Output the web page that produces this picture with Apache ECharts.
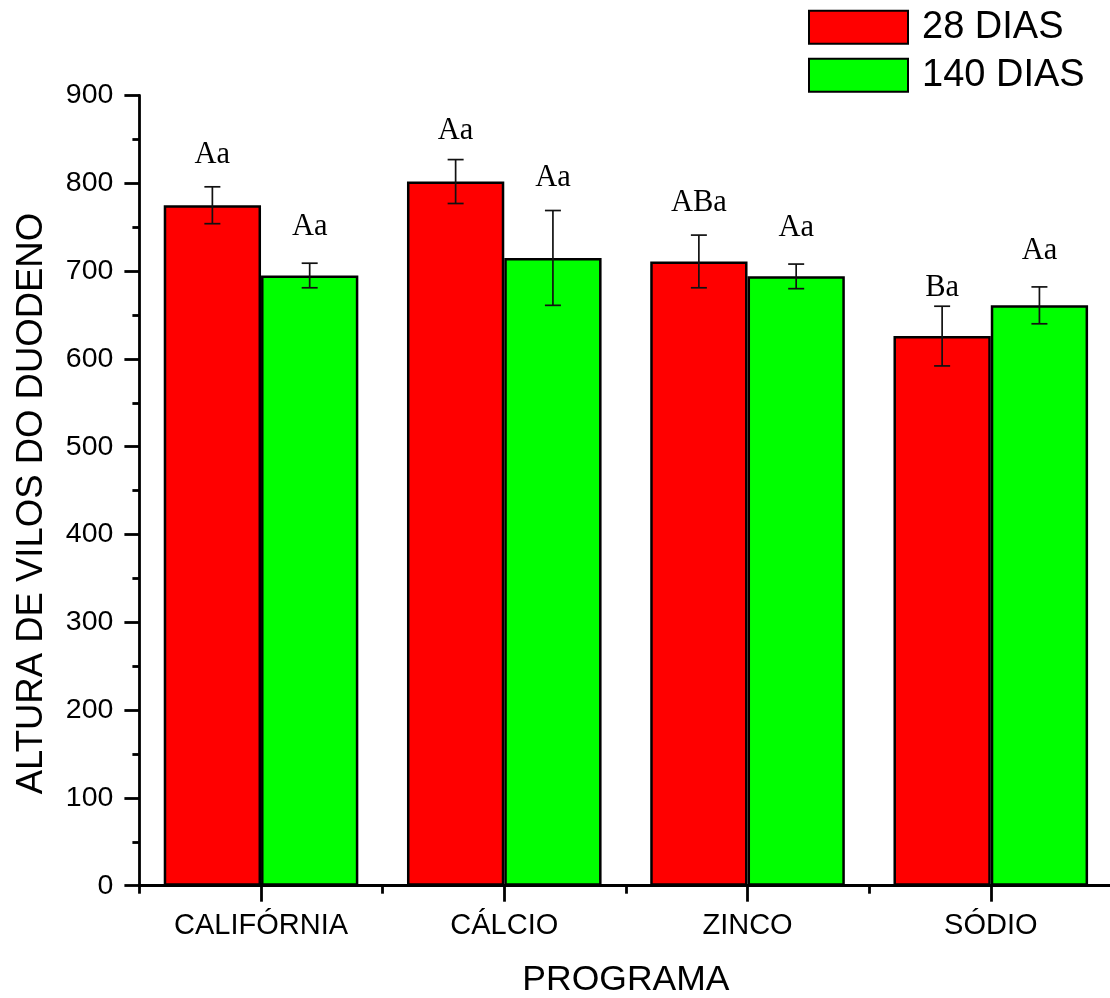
<!DOCTYPE html>
<html><head><meta charset="utf-8">
<script src="https://cdn.jsdelivr.net/npm/echarts@6/dist/echarts.min.js"></script>
<style>html,body{margin:0;padding:0;background:#fff;overflow:hidden}#c{width:1110px;height:998px}</style>
</head><body><div id="c"></div>
<script>
const categories = ['CALIFÓRNIA', 'CÁLCIO', 'ZINCO', 'SÓDIO'];
const seriesNames = ['28 DIAS', '140 DIAS'];
const dias28 = [775, 802, 711, 626];
const dias140 = [695, 715, 694, 661];
const err28 = [21, 25, 30, 34];
const err140 = [14, 54, 14, 21];
const letters28 = ['Aa', 'Aa', 'ABa', 'Ba'];
const letters140 = ['Aa', 'Aa', 'Aa', 'Aa'];
const letterAt28 = [832, 860, 778, 681];
const letterAt140 = [750, 806, 749, 723];
const yTicks = {min: 0, max: 900, interval: 100};

const errData = [];
categories.forEach((c, i) => {
  errData.push([i, dias28[i], err28[i], -1, letters28[i], letterAt28[i]]);
  errData.push([i, dias140[i], err140[i], 1, letters140[i], letterAt140[i]]);
});

const chart = echarts.init(document.getElementById('c'));
const font = 'Liberation Sans, Arial, Helvetica, sans-serif';
chart.setOption({
  animation: false,
  backgroundColor: '#fff',
  legend: {
    data: seriesNames,
    orient: 'vertical',
    left: 808, top: 8.2, padding: 0,
    itemWidth: 99, itemHeight: 33, itemGap: 10,
    icon: 'rect',
    textStyle: {fontSize: 38, fontFamily: font, color: '#000', padding: [0, 0, 0, 9]}
  },
  grid: {left: 139.4, width: 973, top: 95.5, bottom: 112.3, containLabel: false, outerBoundsMode: 'none'},
  xAxis: [{
    type: 'category', data: categories, position: 'bottom',
    axisLine: {lineStyle: {color: '#000', width: 2.8}},
    axisTick: {show: true, length: 8, lineStyle: {color: '#000', width: 2.8}},
    axisLabel: {fontSize: 29, fontFamily: font, color: '#000', margin: 26},
    name: 'PROGRAMA', nameLocation: 'middle', nameGap: 77,
    nameTextStyle: {fontSize: 35.5, fontFamily: font, color: '#000'}
  }, {
    type: 'category', data: categories, position: 'bottom',
    axisLine: {show: false},
    axisTick: {show: true, alignWithLabel: true, length: 16, lineStyle: {color: '#000', width: 2.8}},
    axisLabel: {show: false}
  }],
  yAxis: {
    type: 'value', min: yTicks.min, max: yTicks.max, interval: yTicks.interval,
    axisLine: {show: true, lineStyle: {color: '#000', width: 2.8}},
    axisTick: {show: true, length: 15, lineStyle: {color: '#000', width: 2.8}},
    minorTick: {show: true, splitNumber: 2, length: 7, lineStyle: {color: '#000', width: 2.8}},
    splitLine: {show: false},
    axisLabel: {fontSize: 28.5, fontFamily: font, color: '#000', margin: 26},
    name: 'ALTURA DE VILOS DO DUODENO', nameLocation: 'middle', nameGap: 89,
    nameTextStyle: {fontSize: 36.5, fontFamily: font, color: '#000', padding: [0, 26, 0, 0]}
  },
  series: [{
    name: seriesNames[0], type: 'bar', data: dias28, barGap: '0%', barCategoryGap: '20%',
    itemStyle: {color: '#ff0000', borderColor: '#000', borderWidth: 2.5}
  }, {
    name: seriesNames[1], type: 'bar', data: dias140, barGap: '0%', barCategoryGap: '20%',
    itemStyle: {color: '#00ff00', borderColor: '#000', borderWidth: 2.5}
  }, {
    type: 'custom', data: errData, z: 10,
    encode: {x: 0, y: 1},
    renderItem: function (params, api) {
      const idx = api.value(0), mean = api.value(1), sd = api.value(2), side = api.value(3);
      const label = errData[params.dataIndex][4];
      const labelAt = api.value(5);
      const bw = api.size([1, 0])[0];
      const cx = api.coord([idx, mean])[0] + side * 0.2 * bw;
      const yt = api.coord([idx, mean + sd])[1];
      const yb = api.coord([idx, mean - sd])[1];
      const yl = api.coord([idx, labelAt])[1];
      const cap = 8;
      const st = {stroke: '#111', lineWidth: 1.7};
      return {type: 'group', children: [
        {type: 'line', shape: {x1: cx, y1: yt, x2: cx, y2: yb}, style: st},
        {type: 'line', shape: {x1: cx - cap, y1: yt, x2: cx + cap, y2: yt}, style: st},
        {type: 'line', shape: {x1: cx - cap, y1: yb, x2: cx + cap, y2: yb}, style: st},
        {type: 'text', x: cx, y: yl, style: {text: label, fill: '#000', fontSize: 30.5,
          fontFamily: 'Liberation Serif, Times New Roman, serif', align: 'center', verticalAlign: 'middle'}}
      ]};
    }
  }]
});
</script></body></html>
